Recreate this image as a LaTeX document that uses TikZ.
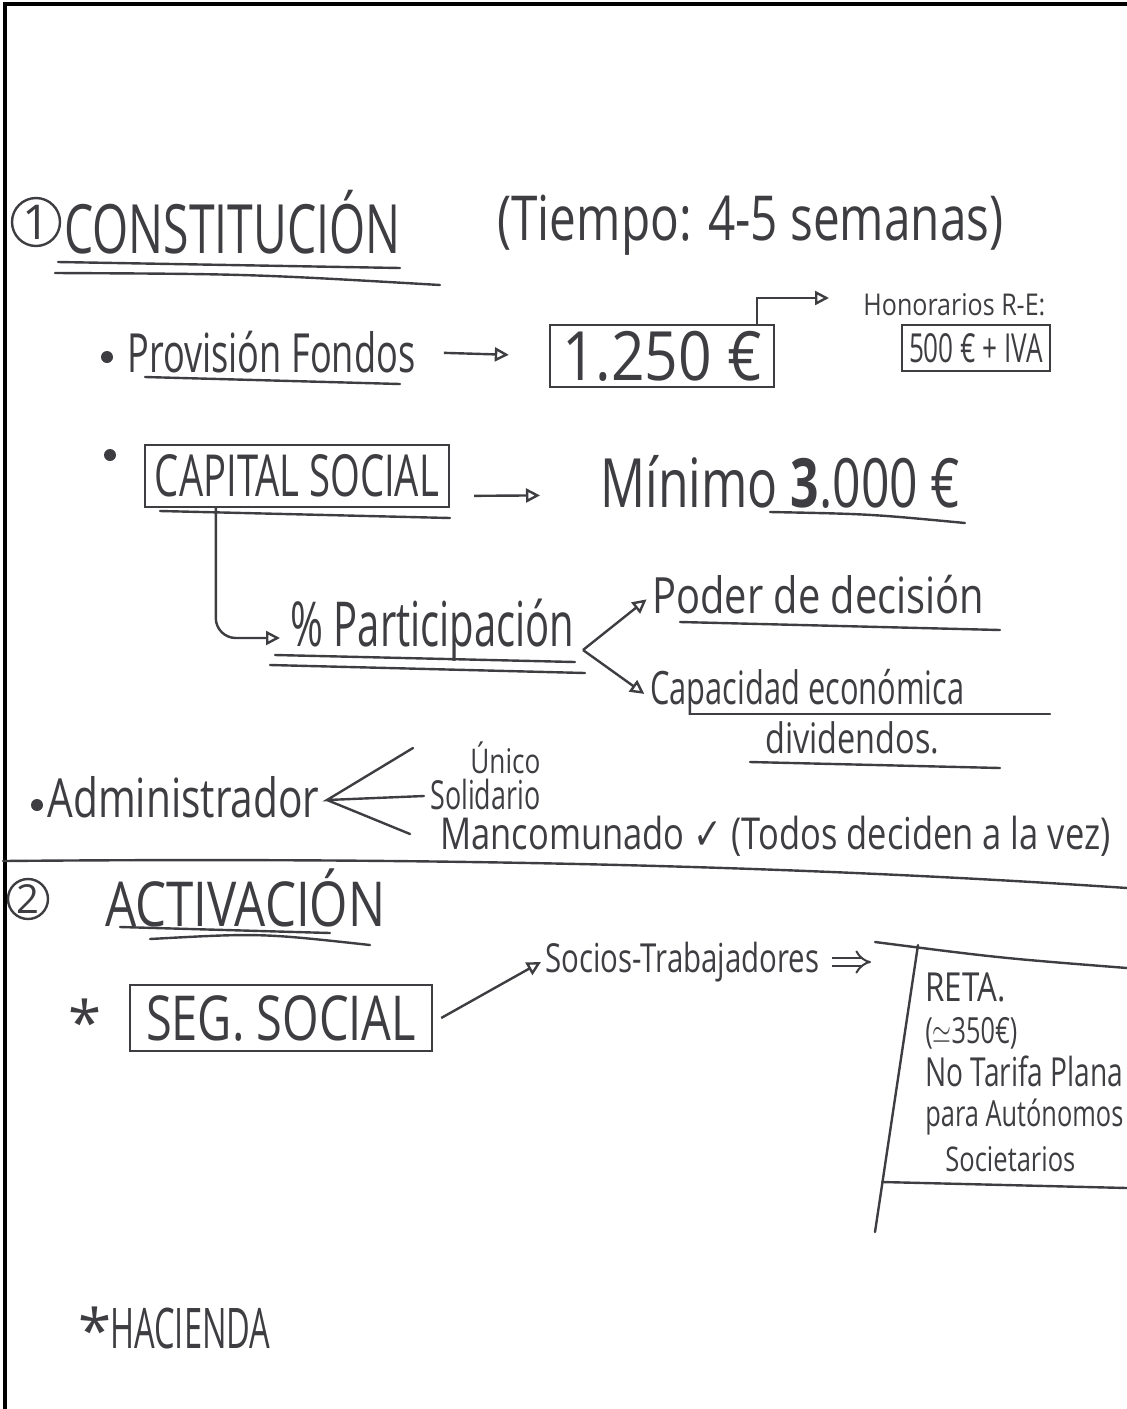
\documentclass[tikz,border=0pt]{standalone}
\usepackage{fontspec}
\usepackage{graphicx}
\setmainfont{Open Sans}
\newfontfamily\symbfont{DejaVu Sans}
\usetikzlibrary{arrows.meta}
\definecolor{ink}{RGB}{62,62,66}
\newcommand{\pen}[1]{\fontsize{#1}{#1}\selectfont}
\newcommand{\wide}[2]{\resizebox{#1}{\height}{#2}}

\begin{document}
\begin{tikzpicture}[x=0.5pt,y=-0.5pt,
    hand/.style={text=ink, inner sep=0pt, anchor=west},
    framed/.style={draw=ink, line width=1.2pt, text=ink, inner sep=0pt},
    numbered/.style={circle, draw=ink, line width=1.2pt, inner sep=0pt, text=ink},
    link/.style={draw=ink, line width=1.2pt, -{Triangle[open,length=7pt,width=7pt]}},
    stroke/.style={draw=ink, line width=1.2pt, line cap=round}]
  \useasboundingbox (0,0) rectangle (1127,1409);
  \clip (0,0) rectangle (1127,1409);
  % Page frame
  \draw[line width=1.6pt] (5,1409) -- (5,4) -- (1127,4);

  % (1) Constitucion
  \node[numbered, minimum size=24pt, font=\pen{24}] (num1) at (36,222) {1};
  \node[hand, font=\pen{34}] (constit) at (64,222) {\wide{168pt}{CONSTITUCIÓN}};
  \node[hand, font=\pen{31}] (tiempo) at (497,225) {\wide{253pt}{(Tiempo: 4-5 semanas)}};
  \draw[stroke] (58,262) -- (400,268);
  \draw[stroke] (55,273) .. controls (250,274) .. (440,285);

  % Provision de fondos
  \fill[ink] (107,357) circle (3pt);
  \node[hand, font=\pen{27}] (provis) at (127,352) {\wide{144pt}{Provisión Fondos}};
  \draw[stroke] (145,377) -- (400,384);
  \node[framed, minimum width=112pt, minimum height=31pt, font=\pen{34}] (euro1250) at (662,356) {\wide{100pt}{1.250 €}};
  \node[hand, font=\pen{15}] (honor) at (863,305) {\wide{91pt}{Honorarios R-E:}};
  \node[framed, minimum width=74pt, minimum height=23pt, font=\pen{20}] (fee) at (976,348) {\wide{67pt}{500 € + IVA}};
  \draw[link, shorten <=14pt, shorten >=20pt] (provis.east) -- (euro1250.west);
  \draw[link, shorten >=17pt] ([xshift=-9pt]euro1250.north east) |- ([yshift=3.5pt]honor.west);

  % Capital social
  \fill[ink] (110,455) circle (3pt);
  \node[framed, minimum width=152pt, minimum height=31pt, font=\pen{29}] (capital) at (297,476) {\wide{142pt}{CAPITAL SOCIAL}};
  \draw[stroke] (160,511) -- (450,518);
  \node[hand, font=\pen{34}] (minimo) at (600,482) {\wide{180pt}{Mínimo \textbf{3}.000 €}};
  \draw[stroke] (770,512) .. controls (870,514) .. (965,523);
  \draw[link, shorten <=12pt, shorten >=30pt] ([yshift=-10pt]capital.east) -- ([yshift=-6.5pt]minimo.west);

  % Participacion
  \node[hand, font=\pen{31}] (particip) at (290,630) {\wide{142pt}{\% Participación}};
  \draw[stroke] (275,655) -- (575,662);
  \draw[stroke] (270,665) -- (585,673);
  \draw[link, rounded corners=10pt, shorten >=5pt] ([xshift=36pt]capital.south west) |- ([yshift=-4pt]particip.west);
  \coordinate (fork) at (583,650);
  \node[hand, font=\pen{25}] (poder) at (652,595) {\wide{166pt}{Poder de decisión}};
  \draw[stroke] (680,622) -- (1000,630);
  \node[hand, font=\pen{23}] (capac) at (650,692) {\wide{157pt}{Capacidad económica}};
  \draw[stroke] (690,714) -- (1050,714);
  \node[hand, font=\pen{21}] (divid) at (765,738) {\wide{87pt}{dividendos.}};
  \draw[stroke] (750,762) -- (1000,768);
  \draw[link, shorten >=3.5pt] (fork) -- (poder.west);
  \draw[link, shorten >=3.5pt] (fork) -- ([yshift=-3pt]capac.west);

  % Administrador
  \fill[ink] (37,805) circle (3pt);
  \node[hand, font=\pen{27}] (admin) at (47,797) {\wide{136pt}{Administrador}};
  \node[hand, font=\pen{17}] (unico) at (470,758) {\wide{35pt}{Único}};
  \node[hand, font=\pen{20}] (solid) at (430,794) {\wide{55pt}{Solidario}};
  \node[hand, font=\pen{22}] (manco) at (440,836) {\wide{335pt}{Mancomunado {\symbfont ✓} (Todos deciden a la vez)}};
  \coordinate (admfork) at (327,800);
  \coordinate (unicoend) at (413,748);
  \coordinate (solidend) at (424,796);
  \coordinate (mancoend) at (410,834);
  \draw[stroke] (unicoend) -- (admfork) -- (solidend);
  \draw[stroke] (admfork) -- (mancoend);

  % Separator
  \draw[stroke] (3,861) .. controls (450,857) and (800,866) .. (1127,888);

  % (2) Activacion
  \node[numbered, minimum size=20pt, font=\pen{20}] (num2) at (28,899) {2};
  \node[hand, font=\pen{31}] (activ) at (105,898) {\wide{140pt}{ACTIVACIÓN}};
  \draw[stroke] (120,927) -- (330,933);
  \draw[stroke] (150,939) .. controls (260,933) .. (370,945);

  % Seguridad social
  \node[hand, font=\pen{30}] (star1) at (68,1022) {*};
  \node[framed, minimum width=151pt, minimum height=33pt, font=\pen{31}] (segsoc) at (281,1018) {\wide{135pt}{SEG. SOCIAL}};
  \node[hand, font=\pen{20}] (socios) at (545,962) {\wide{137pt}{Socios-Trabajadores}};
  \draw[link] ([xshift=4pt]segsoc.east) -- ([xshift=-2pt]socios.west);

  % RETA
  \node[hand, font=\pen{20}] (reta) at (925,987) {\wide{40pt}{RETA.}};
  \node[hand, font=\pen{18}] (retafee) at (925,1033) {\wide{46pt}{($\simeq$350€)}};
  \node[hand, font=\pen{20}] (plana) at (925,1071) {\wide{99pt}{No Tarifa Plana}};
  \node[hand, font=\pen{18}] (autonom) at (925,1117) {\wide{99pt}{para Autónomos}};
  \node[hand, font=\pen{17}] (societ) at (945,1159) {\wide{65pt}{Societarios}};
  \draw[stroke] (875,942) .. controls (1000,958) .. (1127,968);
  \draw[stroke] (918,945) -- (875,1232);
  \draw[stroke] (882,1182) -- (1127,1188);
  \draw[draw=ink, line width=1pt, double, double distance=3pt, -{Implies}, shorten <=6pt]
      (socios.east) -- ([xshift=-27pt,yshift=12.5pt]reta.west);

  % Hacienda
  \node[hand, font=\pen{30}] (star2) at (78,1330) {*};
  \node[hand, font=\pen{28}] (hacienda) at (110,1328) {\wide{80pt}{HACIENDA}};
\end{tikzpicture}
\end{document}
